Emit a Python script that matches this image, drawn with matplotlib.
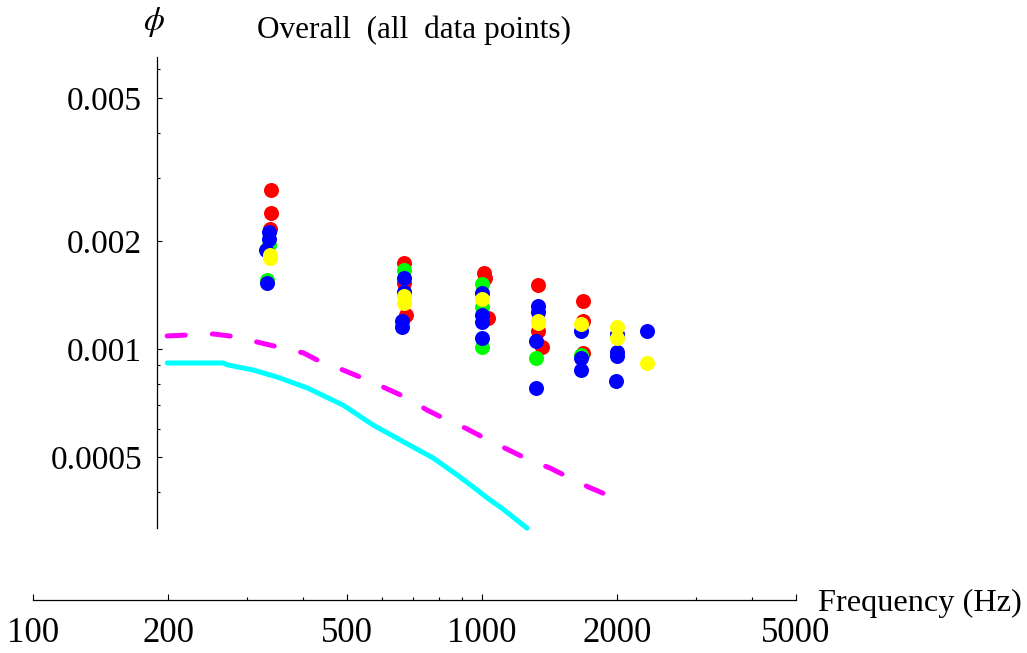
import matplotlib
matplotlib.use('Agg')
import matplotlib.pyplot as plt
from matplotlib.ticker import FixedLocator, FixedFormatter, NullFormatter

# ---------------- data ----------------
red_f = [339, 339, 337, 670, 670, 677, 1010, 1015, 1031, 1333, 1333, 1360, 1678, 1678, 1678]
red_phi = [0.00277, 0.00239, 0.00216, 0.00174, 0.00153, 0.00124, 0.00163, 0.00158, 0.00122,
           0.00151, 0.00112, 0.00101, 0.00136, 0.00120, 0.000975]

green_f = [335, 332, 670, 1000, 1000, 1000, 1319, 1661]
green_phi = [0.00195, 0.00156, 0.00166, 0.00152, 0.00131, 0.00101, 0.000944, 0.000962]

blue_f = [335, 335, 331, 332, 670, 670, 663, 663, 1000, 1000, 1000, 1000,
          1333, 1333, 1319, 1319, 1661, 1661, 1661, 1999, 1999, 1999, 1990, 2331]
blue_phi = [0.00212, 0.00203, 0.00188, 0.00153, 0.00158, 0.00144, 0.00120, 0.00115,
            0.00143, 0.00124, 0.00119, 0.00107, 0.00132, 0.00127, 0.00105, 0.000779,
            0.00112, 0.000944, 0.000874, 0.00110, 0.000981, 0.000956, 0.000815, 0.00112]

yellow_f = [337, 337, 670, 670, 1000, 1333, 1333, 1661, 1999, 1999, 2331]
yellow_phi = [0.00183, 0.00179, 0.00140, 0.00134, 0.00138, 0.00120, 0.00118, 0.00117,
              0.00115, 0.00107, 0.000914]

dash_f = [199, 224, 252, 285, 315, 351, 400, 442, 490, 554, 608, 681, 754, 836, 926,
          1042, 1137, 1272, 1417, 1570, 1722, 1948]
dash_phi = [0.001087, 0.001094, 0.001101, 0.001080, 0.001046, 0.001013, 0.000975, 0.000914,
            0.000874, 0.000820, 0.000779, 0.000730, 0.000676, 0.000634, 0.000599, 0.000554,
            0.000526, 0.000491, 0.000466, 0.000437, 0.000413, 0.000387]

solid_f = [199, 265, 271, 309, 349, 408, 490, 572, 657, 778, 880, 975, 1026, 1114, 1259]
solid_phi = [0.000914, 0.000914, 0.000903, 0.000874, 0.000836, 0.000779, 0.000698, 0.000614,
             0.000558, 0.000497, 0.000446, 0.000405, 0.000385, 0.000358, 0.000317]

x_major = [100, 200, 500, 1000, 2000, 5000]
x_major_labels = ['100', '200', '500', '1000', '2000', '5000']
x_minor = [300, 400, 600, 700, 800, 900, 3000, 4000]
y_major = [0.0005, 0.001, 0.002, 0.005]
y_major_labels = ['0.0005', '0.001', '0.002', '0.005']
y_minor = [0.0004, 0.0006, 0.0007, 0.0008, 0.0009, 0.003, 0.004, 0.006]

title_text = 'Overall  (all  data points)'
xlabel_text = 'Frequency (Hz)'
ylabel_text = r'$\phi$'

# ---------------- plot ----------------
plt.rcParams['font.family'] = ['Liberation Serif', 'DejaVu Serif']
plt.rcParams['mathtext.fontset'] = 'stix'
plt.rcParams['lines.scale_dashes'] = False

W, H = 1027, 653
fig = plt.figure(figsize=(W / 100, H / 100), dpi=100)
px0, px1 = 33, 796
pybot, pytop = 600, 57
ax = fig.add_axes([px0 / W, (H - pybot) / H, (px1 - px0) / W, (pybot - pytop) / H])
ax.set_xscale('log')
ax.set_yscale('log')
ax.set_xlim(100, 5000)
ax.set_ylim(0.0002, 0.0065)

ax.spines['top'].set_visible(False)
ax.spines['right'].set_visible(False)
ax.spines['left'].set_position(('data', 189))
ax.spines['left'].set_bounds(0.000317, 0.0065)
for s in ('left', 'bottom'):
    ax.spines[s].set_linewidth(0.9)

ax.xaxis.set_major_locator(FixedLocator(x_major))
ax.xaxis.set_major_formatter(FixedFormatter(x_major_labels))
ax.xaxis.set_minor_locator(FixedLocator(x_minor))
ax.xaxis.set_minor_formatter(NullFormatter())
ax.yaxis.set_major_locator(FixedLocator(y_major))
ax.yaxis.set_major_formatter(FixedFormatter(y_major_labels))
ax.yaxis.set_minor_locator(FixedLocator(y_minor))
ax.yaxis.set_minor_formatter(NullFormatter())

ax.tick_params(axis='x', which='major', direction='in', length=4.5, width=0.8,
               labelsize=25, pad=12)
ax.tick_params(axis='x', which='minor', direction='in', length=2.5, width=0.8)
ax.tick_params(axis='y', which='major', direction='in', length=3.5, width=0.8,
               labelsize=24, pad=11)
ax.tick_params(axis='y', which='minor', direction='in', length=2.5, width=0.8)

ax.plot(dash_f, dash_phi, color='#ff00ff', lw=3.6, solid_capstyle='round',
        dash_capstyle='round', dashes=(13, 19.5))
ax.plot(solid_f, solid_phi, color='#00ffff', lw=3.6, solid_capstyle='round')

ms = 10.8
for f, p, c in ((red_f, red_phi, '#ff0000'), (green_f, green_phi, '#00ff00'),
                (blue_f, blue_phi, '#0000ff'), (yellow_f, yellow_phi, '#ffff00')):
    ax.plot(f, p, 'o', ms=ms, mfc=c, mec=c, mew=0, ls='none')

fig.text(257 / W, 1 - 30 / H, title_text, fontsize=22.5, ha='left', va='center')
fig.text(818 / W, 1 - 603 / H, xlabel_text, fontsize=23.3, ha='left', va='center')
fig.text(154 / W, 1 - 22 / H, ylabel_text, fontsize=24, ha='center', va='center')

fig.savefig('out.png', dpi=100)
